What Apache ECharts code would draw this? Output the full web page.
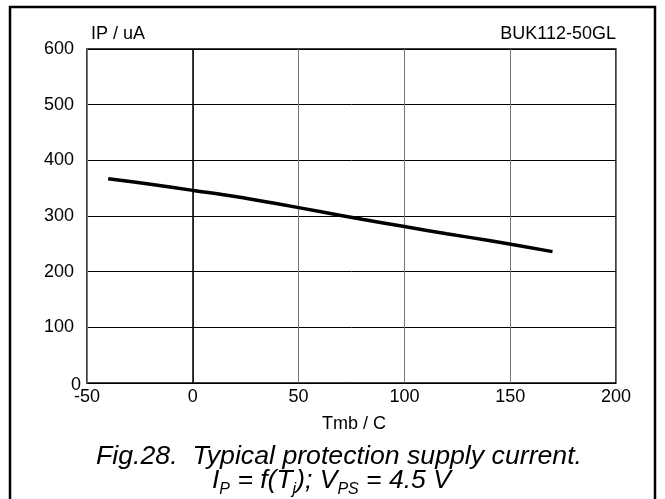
<!DOCTYPE html>
<html><head><meta charset="utf-8">
<script src="https://cdn.jsdelivr.net/npm/echarts@6/dist/echarts.min.js"></script>
<style>html,body{margin:0;padding:0;background:#fff}#c{width:665px;height:499px}</style>
</head><body><div id="c"></div>
<script>
var temps = [-40, -20, 0, 20, 40, 60, 80, 100, 120, 140, 170];
var current = [367, 357, 346, 335, 322, 308, 294, 281, 268, 256, 236];
var xTicks = [-50, 0, 50, 100, 150, 200];
var yTicks = [0, 100, 200, 300, 400, 500, 600];

var chart = echarts.init(document.getElementById('c'));
var F = 'Liberation Sans, Arial, sans-serif';
chart.setOption({
  animation: false,
  grid: {left: 87, right: 49, top: 49, bottom: 116, show: true, borderColor: '#000', borderWidth: 1.5, backgroundColor: 'transparent'},
  xAxis: {
    type: 'value', min: xTicks[0], max: xTicks[xTicks.length-1], interval: 50,
    axisLine: {show: false}, axisTick: {show: false},
    splitLine: {show: true, lineStyle: {color: '#777', width: 1}},
    axisLabel: {color: '#000', fontFamily: F, fontSize: 18, margin: 5}
  },
  yAxis: {
    type: 'value', min: yTicks[0], max: yTicks[yTicks.length-1], interval: 100,
    axisLine: {show: false}, axisTick: {show: false},
    splitLine: {show: true, lineStyle: {color: '#000', width: 1}},
    axisLabel: {color: '#000', fontFamily: F, fontSize: 18, margin: 13,
      formatter: function(v){ return v === 0 ? '{z|0}' : '' + v; },
      rich: {z: {fontFamily: F, fontSize: 18, color: '#000', padding: [4, -7, 0, 0]}}}
  },
  graphic: [
    {type: 'rect', shape: {x: 10, y: 7, width: 645, height: 510}, style: {fill: 'none', stroke: '#000', lineWidth: 2.5}, silent: true},
    {type: 'text', left: 91, top: 25, style: {text: 'IP / uA', font: '18px ' + F, fill: '#000'}},
    {type: 'text', right: 49, top: 25, style: {text: 'BUK112-50GL', font: '18px ' + F, fill: '#000'}},
    {type: 'text', left: 322, top: 415, style: {text: 'Tmb / C', font: '18px ' + F, fill: '#000'}},
    {type: 'text', top: 443, left: 96, style: {text: 'Fig.28.  Typical protection supply current.', font: 'italic 26.7px ' + F, fill: '#000'}},
    {type: 'text', top: 467, left: 212, style: {
      text: '{n|I}{s|P}{n| = f(T}{s|j}{n|); V}{s|PS}{n| = 4.5 V}',
      rich: {
        n: {font: 'italic 26.5px ' + F, fill: '#000', verticalAlign: 'bottom', lineHeight: 28},
        s: {font: 'italic 16px ' + F, fill: '#000', verticalAlign: 'bottom', lineHeight: 20, padding: [0,0,-4,0]}
      }
    }}
  ],
  series: [{
    type: 'line', data: temps.map(function(t, i){ return [t, current[i]]; }),
    showSymbol: false, smooth: 0.3, lineStyle: {color: '#000', width: 3.5},
    markLine: {silent: true, symbol: 'none', label: {show: false}, lineStyle: {color: '#000', width: 1.5, type: 'solid'}, data: [{xAxis: 0}]}
  }]
});
</script></body></html>
